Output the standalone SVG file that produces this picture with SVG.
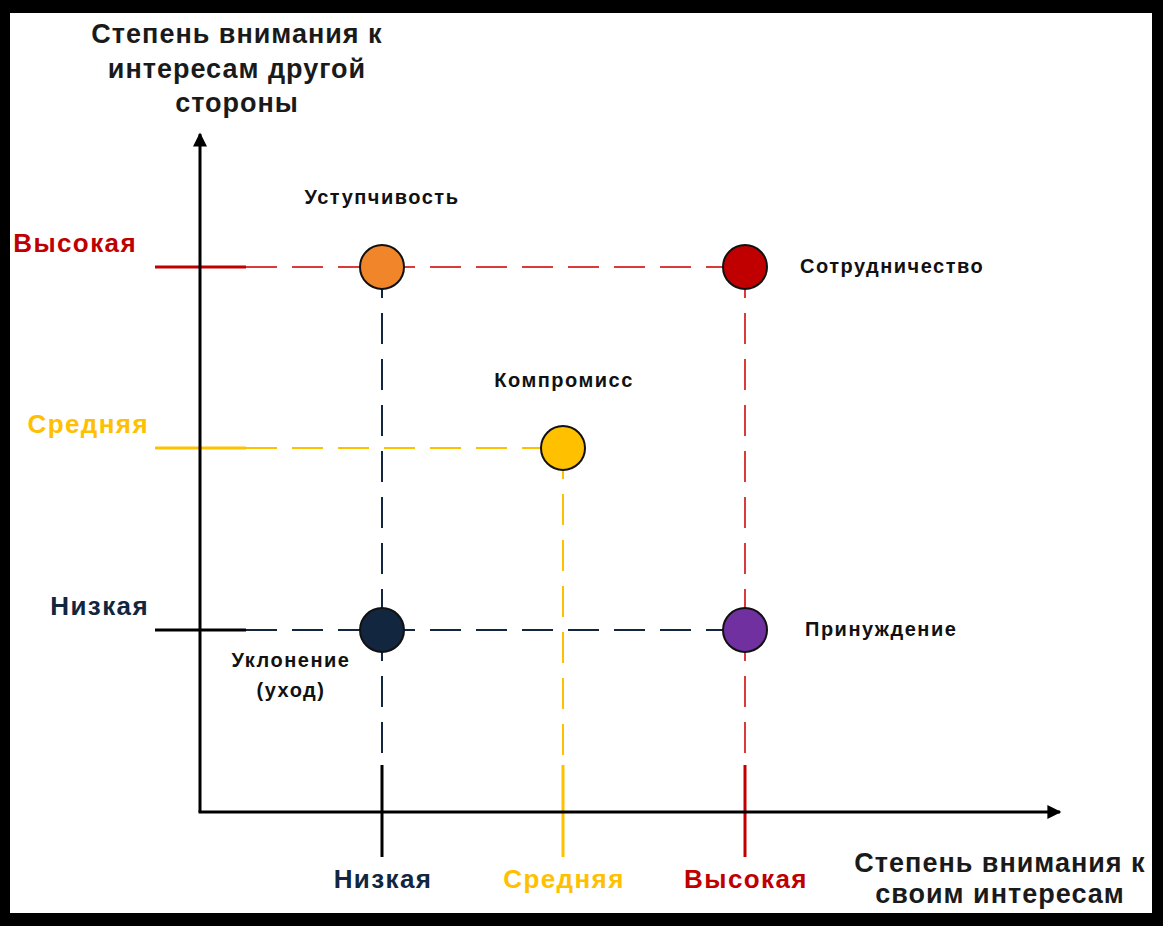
<svg xmlns="http://www.w3.org/2000/svg" width="1163" height="926" viewBox="0 0 1163 926">
<style>
text{font-family:"Liberation Sans",Arial,sans-serif;font-weight:bold}
.t{font-size:27px;letter-spacing:1px;fill:#1a1a1a;text-anchor:middle}
.n{font-size:20px;letter-spacing:1.5px;fill:#111}
.lv{font-size:26px;letter-spacing:1.4px}
.d{fill:none;stroke-width:2;stroke-dasharray:31 15}
.s{fill:none;stroke-width:3}
.c{stroke:#111;stroke-width:2}
</style>
<defs>
<marker id="ah" viewBox="0 0 10 10" refX="9" refY="5" markerWidth="22" markerHeight="14" markerUnits="userSpaceOnUse" orient="auto">
<path d="M0,0 L10,5 L0,10 z" fill="#000"/>
</marker>
</defs>
<rect x="0" y="0" width="1163" height="926" fill="#000"/>
<rect x="10" y="13" width="1142" height="900" fill="#fff"/>
<g id="connectors">
<path class="d" stroke="#d93b3b" d="M246,267 H745 M745,267 V630 M745,630 V765"/>
<path class="d" stroke="#ffc000" d="M246,448 H563 M563,448 V765"/>
<path class="d" stroke="#12263f" d="M246,630 H745 M382,267 V630 M382,630 V765"/>
<path class="s" stroke="#c00000" d="M155,267 H246 M745,765 V857"/>
<path class="s" stroke="#ffc000" d="M155,448 H246 M563,765 V857"/>
<path class="s" stroke="#000" d="M155,630 H246 M382,765 V857"/>
<path class="s" stroke="#000" d="M200,812 V134" marker-end="url(#ah)"/>
<path class="s" stroke="#000" d="M198.5,812 H1060" marker-end="url(#ah)"/>
</g>
<g id="axis-y-title">
<text class="t" x="237" y="43">Степень внимания к</text>
<text class="t" x="237" y="78">интересам другой</text>
<text class="t" x="237" y="112">стороны</text>
</g>
<g id="axis-x-title">
<text class="t" x="1000" y="872">Степень внимания к</text>
<text class="t" x="1000" y="903">своим интересам</text>
</g>
<g id="y-levels">
<text class="lv" x="137" y="252" text-anchor="end" fill="#c00000">Высокая</text>
<text class="lv" x="149" y="433" text-anchor="end" fill="#ffc000">Средняя</text>
<text class="lv" x="149" y="615" text-anchor="end" fill="#12263f">Низкая</text>
</g>
<g id="x-levels">
<text class="lv" x="383" y="888" text-anchor="middle" fill="#12263f">Низкая</text>
<text class="lv" x="564" y="888" text-anchor="middle" fill="#ffc000">Средняя</text>
<text class="lv" x="746" y="888" text-anchor="middle" fill="#c00000">Высокая</text>
</g>
<g id="node-ustupchivost">
<circle class="c" cx="382" cy="267" r="22" fill="#f0852a"/>
<text class="n" x="382" y="204" text-anchor="middle">Уступчивость</text>
</g>
<g id="node-sotrudnichestvo">
<circle class="c" cx="745" cy="267" r="22" fill="#c00000"/>
<text class="n" x="800" y="273">Сотрудничество</text>
</g>
<g id="node-kompromiss">
<circle class="c" cx="563" cy="448" r="22" fill="#ffc000"/>
<text class="n" x="564" y="387" text-anchor="middle">Компромисс</text>
</g>
<g id="node-uklonenie">
<circle class="c" cx="382" cy="630" r="22" fill="#12263f"/>
<text class="n" x="291" y="667" text-anchor="middle">Уклонение</text>
<text class="n" x="291" y="697" text-anchor="middle">(уход)</text>
</g>
<g id="node-prinuzhdenie">
<circle class="c" cx="745" cy="630" r="22" fill="#7030a0"/>
<text class="n" x="805" y="636">Принуждение</text>
</g>
</svg>
